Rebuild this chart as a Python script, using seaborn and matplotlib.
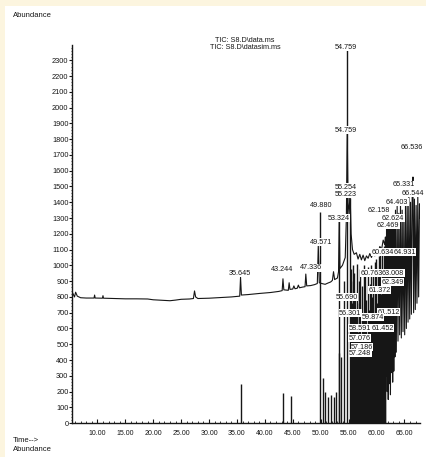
import numpy as np
import pandas as pd
import seaborn as sns
import matplotlib.pyplot as plt
from matplotlib import font_manager
from matplotlib.patches import Rectangle
from matplotlib.ticker import MultipleLocator, FormatStrFormatter

# TIC: S8.D\data.ms  (continuous trace)
data_t = [5.5, 5.9, 6.1, 6.4, 7.0, 8.0, 9.4, 9.5, 9.6, 10.9, 11.0, 11.1, 13.0, 15.0, 17.0,
          19.0, 20.0, 22.0, 23.0, 24.0, 25.0, 26.5, 27.2, 27.4, 27.6, 28.0, 30.0, 32.0, 34.0,
          35.5, 35.645, 35.8, 37.0, 39.0, 41.0, 42.5, 43.1, 43.244, 43.4, 44.2, 44.35, 44.5,
          45.0, 45.2, 45.4, 45.8, 46.0, 46.2, 46.7, 47.2, 47.336, 47.5, 48.2, 48.9, 49.4,
          49.571, 49.75, 50.2, 50.8, 51.3, 51.8, 52.1, 52.3, 52.5, 53.0, 53.2, 53.324, 53.45,
          53.9, 54.4, 54.6, 54.759, 54.9, 55.1, 55.254, 55.45, 55.7, 56.0, 56.4, 56.7, 57.0,
          57.3, 57.6, 57.9, 58.2, 58.5, 58.8, 59.1, 59.4, 59.7, 60.0, 60.3, 60.6, 60.9, 61.2,
          61.5, 61.6, 61.7, 61.8, 61.9, 62.0, 62.1, 62.2, 62.3, 62.4, 62.5, 62.6, 62.7, 62.8,
          62.9, 63.0, 63.1, 63.2, 63.3, 63.4, 63.55, 63.7, 63.85, 64.0, 64.15, 64.3, 64.45,
          64.6, 64.75, 64.9, 65.05, 65.2, 65.35, 65.5, 65.65, 65.8, 65.95, 66.1, 66.25, 66.4,
          66.536, 66.65, 66.8, 66.95, 67.1, 67.25, 67.4, 67.55, 67.7, 67.8]
data_ab = [830, 800, 830, 805, 795, 793, 793, 812, 793, 792, 808, 792, 790, 788, 788,
           787, 782, 778, 776, 780, 785, 787, 790, 838, 800, 790, 792, 796, 800,
           805, 925, 812, 815, 822, 828, 835, 840, 915, 845, 842, 890, 848,
           850, 870, 852, 855, 875, 858, 862, 865, 945, 870, 872, 878, 885,
           1130, 890, 885, 880, 888, 895, 905, 960, 910, 920, 960, 1290, 980,
           1000, 1050, 1300, 1840, 1400, 1320, 1480, 1200, 1100, 1070, 1080, 1040, 1070,
           1035, 1065, 1030, 1060, 1045, 1075, 1050, 1085, 1060, 1095, 1080, 1120, 1100, 1160,
           1130, 1180, 300, 1250, 200, 1330, 150, 1290, 250, 1270, 180, 1300, 320, 1240,
           260, 1310, 330, 1280, 420, 1350, 450, 1380, 520, 1330, 560, 1400, 540,
           1350, 580, 1300, 560, 1420, 600, 1380, 640, 1440, 660, 1400, 690, 1470,
           1560, 700, 1420, 720, 1380, 760, 1440, 800, 1390, 1300]

# TIC: S8.D\datasim.ms  (stick peaks)
sim_t = [35.645, 43.244, 44.6, 49.88, 50.4, 50.8, 51.3, 51.8, 52.3, 52.8, 53.2, 53.324,
         53.7, 54.2, 54.759, 55.223, 55.35, 55.5, 55.62, 55.75, 55.9, 56.05, 56.2, 56.35,
         56.5, 56.65, 56.8, 56.95, 57.1, 57.25, 57.4, 57.55, 57.7, 57.85, 58.0, 58.15, 58.3,
         58.45, 58.6, 58.75, 58.9, 59.05, 59.2, 59.35, 59.5, 59.65, 59.8, 59.95, 60.1, 60.25,
         60.4, 60.55, 60.7, 60.85, 61.0, 61.15, 61.3, 61.45, 61.6]
sim_ab = [250, 190, 170, 1340, 285, 196, 165, 177, 165, 196, 443, 1280,
          418, 900, 2370, 1430, 980, 900, 760, 1000, 640, 950, 820, 700,
          1010, 580, 900, 760, 980, 520, 870, 690, 1000, 610, 930, 780, 560,
          990, 720, 880, 640, 1000, 800, 950, 700, 1020, 860, 1040, 760, 980,
          1060, 900, 1080, 820, 1100, 960, 1120, 1000, 820]

# peak labels: text, time position, abundance position
lab_text = ["54.759", "54.759", "55.254", "55.223", "49.880", "53.324", "49.571", "47.336",
            "43.244", "35.645", "66.536", "66.544", "64.403", "65.331", "62.158", "62.624",
            "62.469", "60.634", "64.931", "60.763", "63.008", "62.349", "61.372", "55.690",
            "61.512", "56.301", "59.874", "58.591", "61.452", "57.076", "57.186", "57.248"]
lab_t = [54.55, 54.55, 54.55, 54.55, 50.1, 53.3, 50.1, 48.3,
         43.0, 35.6, 66.3, 66.5, 63.7, 64.9, 60.4, 63.0,
         62.1, 61.1, 65.0, 59.1, 63.0, 62.9, 60.6, 54.7,
         62.2, 55.3, 59.3, 57.0, 61.1, 57.0, 57.4, 57.1]
lab_y = [2383, 1857, 1496, 1451, 1381, 1299, 1147, 985,
         976, 950, 1749, 1458, 1400, 1510, 1350, 1300,
         1252, 1084, 1084, 950, 950, 893, 843, 798,
         703, 697, 672, 602, 602, 539, 482, 444]

names = {f.name for f in font_manager.fontManager.ttflist}
narrow = "Liberation Sans Narrow" if "Liberation Sans Narrow" in names else "Liberation Sans"

sns.set_style("ticks")
plt.rcParams["font.family"] = ["Liberation Sans", "DejaVu Sans"]

fig = plt.figure(figsize=(4.26, 4.57), dpi=100, facecolor="#fcf5df")
fig.patches.append(Rectangle((0.012, 0), 0.988, 0.986, transform=fig.transFigure,
                             facecolor="white", edgecolor="none", zorder=-5))
ax = fig.add_axes([0.169, 0.074, 0.817, 0.827])
ax.set_zorder(2)
ax.set_facecolor("none")

ink = "#161616"
ax.vlines(sim_t, 0, sim_ab, color=ink, lw=1.0)
df = pd.DataFrame({"t": data_t, "ab": data_ab})
sns.lineplot(data=df, x="t", y="ab", ax=ax, color=ink, lw=0.8, sort=False, estimator=None)

for s, t, y in zip(lab_text, lab_t, lab_y):
    ax.text(t, y, s, fontsize=5.2, ha="center", va="center", color=ink, zorder=5,
            bbox=dict(facecolor="white", edgecolor="none", pad=0.2))

ax.set_xlim(5.45, 67.8)
ax.set_ylim(0, 2395)
ax.set_xlabel("")
ax.set_ylabel("")
sns.despine(ax=ax)
for sp in ["left", "bottom"]:
    ax.spines[sp].set_color(ink)
    ax.spines[sp].set_linewidth(1.0)

ax.xaxis.set_major_locator(MultipleLocator(5))
ax.xaxis.set_minor_locator(MultipleLocator(1))
ax.xaxis.set_major_formatter(FormatStrFormatter("%.2f"))
ax.set_xticks(np.arange(10, 66, 5))
ax.yaxis.set_major_locator(MultipleLocator(100))
ax.yaxis.set_minor_locator(MultipleLocator(20))
ax.set_yticks(np.arange(0, 2301, 100))
ax.tick_params(axis="x", which="major", direction="in", length=3, width=0.8,
               labelsize=5, pad=5, colors=ink)
ax.tick_params(axis="x", which="minor", direction="in", length=1.5, width=0.6, colors=ink)
ax.tick_params(axis="y", which="major", direction="out", length=2, width=0.8,
               labelsize=5.3, pad=0.5, colors=ink)
ax.tick_params(axis="y", which="minor", direction="out", length=1, width=0.5, colors=ink)
for lbl in ax.get_xticklabels():
    lbl.set_family([narrow, "DejaVu Sans"])

fig.text(0.03, 0.967, "Abundance", fontsize=5.5, color=ink, va="center")
fig.text(0.575, 0.912, "TIC: S8.D\\data.ms", fontsize=5.2, color=ink, ha="center", va="center")
fig.text(0.575, 0.895, "TIC: S8.D\\datasim.ms", fontsize=5.2, color=ink, ha="center", va="center")
fig.text(0.03, 0.037, "Time-->", fontsize=5.5, color=ink, va="center")
fig.text(0.03, 0.017, "Abundance", fontsize=5.5, color=ink, va="center")

fig.savefig("out.png", dpi=100)
